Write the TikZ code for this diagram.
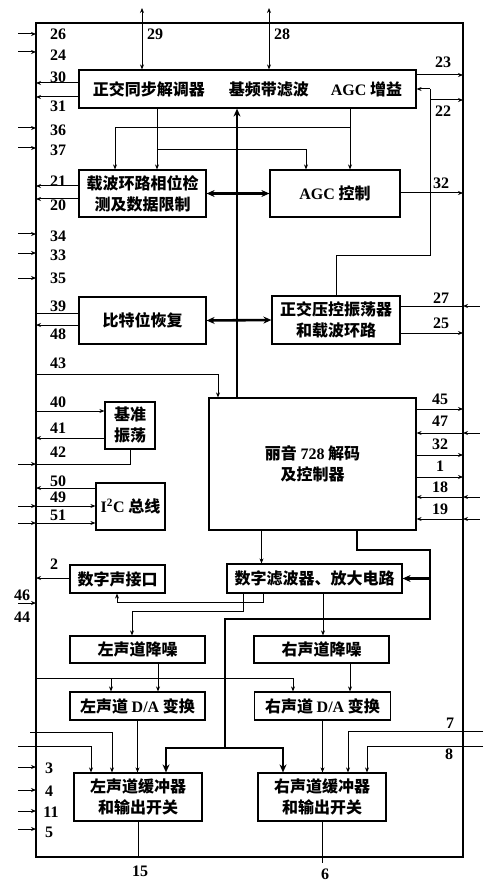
\documentclass[tikz,border=0pt]{standalone}
\usepackage{fontspec}
\setmainfont{Liberation Serif}
\newfontfamily\cjk{Noto Sans CJK SC}
\usetikzlibrary{arrows.meta,calc}
\newcommand\lat[1]{{\rmfamily\bfseries #1}}

\begin{document}
\begin{tikzpicture}[
  x=1pt, y=-1pt,
  >={Stealth[length=5pt,width=4pt]},
  line width=1pt,
  blk/.style={draw, line width=1.2pt, align=center, inner sep=1pt,
    font=\cjk\bfseries\fontsize{16}{21}\selectfont},
  pin/.style={font=\bfseries\fontsize{16}{16}\selectfont, inner sep=0pt},
  bus/.style={line width=2.6pt, >={Stealth[length=8pt,width=7pt]}}
]
\useasboundingbox (0,0) rectangle (498,893);

% --- 芯片外框 ---
\node[draw, line width=1.4pt, minimum width=427pt, minimum height=834pt,
  inner sep=0pt] (chip) at (249.5,440) {};

% --- 方框 ---

% 上部
\node[blk, minimum width=337pt, minimum height=38pt] (demod) at (247.5,89)
  {正交同步解调器\hspace{24pt}基频带滤波\hspace{22pt}\lat{AGC} 增益};

\node[blk, minimum width=127pt, minimum height=47pt] (carrier) at (142.5,193.5)
  {载波环路相位检\\测及数据限制};
\node[blk, minimum width=130pt, minimum height=47pt] (agc) at (335,193.5)
  {\lat{AGC} 控制};

\node[blk, minimum width=127pt, minimum height=47pt] (bitrec) at (142.5,320.5)
  {比特位恢复};
\node[blk, minimum width=128pt, minimum height=48pt] (vco) at (336,320)
  {正交压控振荡器\\和载波环路};

% 解码器一带
\node[blk, minimum width=50pt, minimum height=47pt] (refosc) at (130,425.5)
  {基准\\振荡};
\node[blk, minimum width=207pt, minimum height=132pt] (nicam) at (312.5,464)
  {丽音 \lat{728} 解码\\及控制器};
\node[blk, minimum width=69pt, minimum height=47pt] (i2c) at (130.5,506.5)
  {\lat{I\textsuperscript{2}C} 总线};

% 声道部分
\node[blk, minimum width=95pt, minimum height=28pt] (dai) at (117.5,579)
  {数字声接口};
\node[blk, minimum width=175pt, minimum height=29pt] (dsp) at (314.5,578.5)
  {数字滤波器、放大电路};

\node[blk, minimum width=135pt, minimum height=27pt] (lnr) at (137.5,649.5)
  {左声道降噪};
\node[blk, minimum width=135pt, minimum height=27pt] (rnr) at (321.5,649.5)
  {右声道降噪};

\node[blk, minimum width=135pt, minimum height=28pt] (lda) at (137.5,706)
  {左声道 \lat{D/A} 变换};
\node[blk, minimum width=136pt, minimum height=28pt] (rda) at (322.5,706)
  {右声道 \lat{D/A} 变换};

\node[blk, minimum width=128pt, minimum height=48pt] (lbuf) at (138,797)
  {左声道缓冲器\\和输出开关};
\node[blk, minimum width=128pt, minimum height=48pt] (rbuf) at (322,797)
  {右声道缓冲器\\和输出开关};

% --- 引脚坐标 ---
\coordinate (t29) at (142,8);
\coordinate (t28) at (269,8);

\coordinate (p26) at (36,34);
\coordinate (p24) at (36,52);
\coordinate (p30) at (36,83);
\coordinate (p31) at (36,97);
\coordinate (p36) at (36,128);
\coordinate (p37) at (36,148);
\coordinate (p21) at (36,186);
\coordinate (p20) at (36,199);
\coordinate (p34) at (36,234);
\coordinate (p33) at (36,253);
\coordinate (p35) at (36,278);
\coordinate (p39) at (36,313);
\coordinate (p48) at (36,325);
\coordinate (p43) at (36,374);
\coordinate (p40) at (36,411);
\coordinate (p41) at (36,438);
\coordinate (p42) at (36,464);
\coordinate (p50) at (36,488);
\coordinate (p49) at (36,506);
\coordinate (p51) at (36,523);
\coordinate (p2)  at (36,578);
\coordinate (p46) at (36,603);
\coordinate (pda) at (36,678);
\coordinate (q1)  at (30,732);
\coordinate (q2)  at (18,746);
\coordinate (p3)  at (36,767);
\coordinate (p4)  at (36,790);
\coordinate (p11) at (36,811);
\coordinate (p5)  at (36,829);

\coordinate (p23) at (463,75);
\coordinate (g1)  at (430,89);
\coordinate (p22) at (463,100);
\coordinate (p32a) at (463,193);
\coordinate (g2)  at (430,255);
\coordinate (p27) at (463,306);
\coordinate (p25) at (463,333);
\coordinate (p45) at (463,409);
\coordinate (p47) at (463,433);
\coordinate (p32b) at (463,455);
\coordinate (p1)  at (463,477);
\coordinate (p18) at (463,497);
\coordinate (p19) at (463,519);
\coordinate (q7)  at (483,731);
\coordinate (q8)  at (483,746);
\coordinate (p6)  at (322,863);

% --- 引脚号 ---
\node[pin] (n29) at (155,34) {29};
\node[pin] (n28) at (282,34) {28};

\node[pin] (n26) at (58,34) {26};
\node[pin] (n24) at (58,55) {24};
\node[pin] (n30) at (58,77) {30};
\node[pin] (n31) at (58,106) {31};
\node[pin] (n36) at (58,130) {36};
\node[pin] (n37) at (58,150) {37};
\node[pin] (n21) at (58,181) {21};
\node[pin] (n20) at (58,205) {20};
\node[pin] (n34) at (58,236) {34};
\node[pin] (n33) at (58,255) {33};
\node[pin] (n35) at (58,278) {35};
\node[pin] (n39) at (58,306) {39};
\node[pin] (n48) at (58,334) {48};
\node[pin] (n43) at (58,363) {43};
\node[pin] (n40) at (58,402) {40};
\node[pin] (n41) at (58,428) {41};
\node[pin] (n42) at (58,452) {42};
\node[pin] (n50) at (58,481) {50};
\node[pin] (n49) at (58,497) {49};
\node[pin] (n51) at (58,515) {51};
\node[pin] (n2)  at (54,564) {2};
\node[pin] (n46) at (22,595) {46};
\node[pin] (n44) at (22,617) {44};
\node[pin] (n3)  at (49,768) {3};
\node[pin] (n4)  at (49,791) {4};
\node[pin] (n11) at (51,812) {11};
\node[pin] (n5)  at (49,832) {5};

\node[pin] (n23) at (443,62) {23};
\node[pin] (n22) at (443,111) {22};
\node[pin] (n32a) at (441,183) {32};
\node[pin] (n27) at (441,298) {27};
\node[pin] (n25) at (441,323) {25};
\node[pin] (n45) at (440,399) {45};
\node[pin] (n47) at (440,421) {47};
\node[pin] (n32b) at (440,444) {32};
\node[pin] (n1)  at (440,466) {1};
\node[pin] (n18) at (440,487) {18};
\node[pin] (n19) at (440,509) {19};
\node[pin] (n7)  at (450,723) {7};
\node[pin] (n8)  at (449,754) {8};
\node[pin] (n15) at (140,871) {15};
\node[pin] (n6)  at (325,874) {6};

% --- 连线 ---

% 顶部引脚
\draw[<->] (t29) -- (t29 |- demod.north);
\draw[<->] (t28) -- (t28 |- demod.north);

% 左侧外部输入
\draw[<-] (p26) -- +(-18,0);
\draw[<-] (p24) -- +(-18,0);
\draw[<-] (p36) -- +(-18,0);
\draw[<-] (p37) -- +(-18,0);
\draw[<-] (p34) -- +(-18,0);
\draw[<-] (p33) -- +(-18,0);
\draw[<-] (p35) -- +(-18,0);
\draw[<-] (p46) -- +(-18,0);
\draw[<-] (p3) -- +(-18,0);
\draw[<-] (p4) -- +(-18,0);
\draw[<-] (p11) -- +(-18,0);
\draw[<-] (p5) -- +(-18,0);

% 解调器与载波环路
\draw[->] (demod.west |- p30) -- (p30);
\draw[->] (demod.west |- p31) -- (p31);
\draw[->] (demod.east |- p23) -- (p23);
\draw[->] ([xshift=14.5pt]carrier.north |- demod.south) -- ([xshift=14.5pt]carrier.north);
\draw[->] ([xshift=14.5pt]carrier.north |- 0,150) -| ([xshift=-29pt]agc.north);
\draw[->] ([xshift=15pt]agc.north |- demod.south) -- ([xshift=15pt]agc.north);
\draw[->] ([xshift=15pt]agc.north |- 0,128) -| ([xshift=-27.5pt]carrier.north);
\draw[->] (carrier.west |- p21) -- (p21);
\draw[->] (carrier.west |- p20) -- (p20);
\draw[->] (agc.east |- p32a) -- (p32a);

% 压控振荡器回路
\draw (vco.north) |- (g2) -- (g1);
\draw[->] (g1) -- (g1 -| demod.east);
\draw[->] (g1 |- p22) -- (p22);
\draw[<-] (p27) -- +(17,0);
\draw (p27) -- (vco.east |- p27);
\draw[->] (vco.east |- p25) -- (p25);

% 比特位恢复
\draw (bitrec.west |- p39) -- (p39);
\draw[->] (bitrec.west |- p48) -- (p48);

% 粗总线
\draw[bus,->] ([xshift=-75.5pt]nicam.north) -- ([xshift=-75.5pt]nicam.north |- demod.south);
\draw[bus,<->] (carrier.east) -- (agc.west);
\draw[bus,<->] (bitrec.east) -- (vco.west);

% 解码器左侧
\draw[->] (p43) -| ([xshift=-94.5pt]nicam.north);
\draw[->] (p40) -- (refosc.west |- p40);
\draw[->] (refosc.west |- p41) -- (p41);
\draw[<-] (p42) -- +(-18,0);
\draw (p42) -| (refosc.south);
\draw[->] (i2c.west |- p50) -- (p50);
\draw[<-] (p49) -- +(-18,0);
\draw[->] (p49) -- (i2c.west |- p49);
\draw[<-] (p51) -- +(-18,0);
\draw[->] (p51) -- (i2c.west |- p51);

% 解码器右侧
\draw[->] (nicam.east |- p45) -- (p45);
\draw[<-] (p47) -- +(17,0);
\draw[->] (p47) -- (nicam.east |- p47);
\draw[->] (nicam.east |- p32b) -- (p32b);
\draw[->] (nicam.east |- p1) -- (p1);
\draw[<-] (p18) -- +(17,0);
\draw[->] (p18) -- (nicam.east |- p18);
\draw[<-] (p19) -- +(17,0);
\draw[->] (p19) -- (nicam.east |- p19);

% 解码器 -> 滤波器，粗控制线
\draw[->] ([xshift=-51pt]nicam.south) -- ([xshift=-51pt]nicam.south |- dsp.north);
\coordinate (k1) at (430,550);
\coordinate (k2) at (225,619);
\coordinate (k3) at (225,748);
\draw[bus] ([xshift=44.5pt]nicam.south) |- (k1) |- (k2) -- (k3);
\draw[bus,->] (k1 |- dsp.east) -- (dsp.east);
\draw[bus,->] (k3) -| ([xshift=28pt]lbuf.north);
\draw[bus,->] (k3) -| ([xshift=-39pt]rbuf.north);

% 滤波器输出
\coordinate (m1) at (132,611);
\coordinate (m2) at (117,602);
\draw[->] ([xshift=-71.5pt]dsp.south) |- (m1) -- (m1 |- lnr.north);
\draw[->] ([xshift=-51.5pt]dsp.south) |- (m2) -- (m2 |- dai.south);
\draw[->] ([xshift=8.5pt]dsp.south) -- ([xshift=8.5pt]dsp.south |- rnr.north);
\draw[->] (dai.west |- p2) -- (p2);

% 降噪 -> D/A -> 输出
\draw[->] ([xshift=20.5pt]lnr.south) -- ([xshift=20.5pt]lnr.south |- lda.north);
\draw[->] ([xshift=28.5pt]rnr.south) -- ([xshift=28.5pt]rnr.south |- rda.north);
\draw[->] (pda) -| ([xshift=-29.5pt]rda.north);
\draw[->] ([xshift=-26.5pt]lda.north |- pda) -- ([xshift=-26.5pt]lda.north);
\draw[->] (lda.south) -- (lda.south |- lbuf.north);
\draw[->] (rda.south) -- (rda.south |- rbuf.north);
\draw[->] (q1) -| ([xshift=-26pt]lbuf.north);
\draw[->] (q2) -| ([xshift=-47pt]lbuf.north);
\draw[->] (q7) -| ([xshift=26pt]rbuf.north);
\draw[->] (q8) -| ([xshift=45pt]rbuf.north);
\draw (lbuf.south) -- (lbuf.south |- chip.south);
\draw (rbuf.south) -- (p6);

\end{tikzpicture}
\end{document}
